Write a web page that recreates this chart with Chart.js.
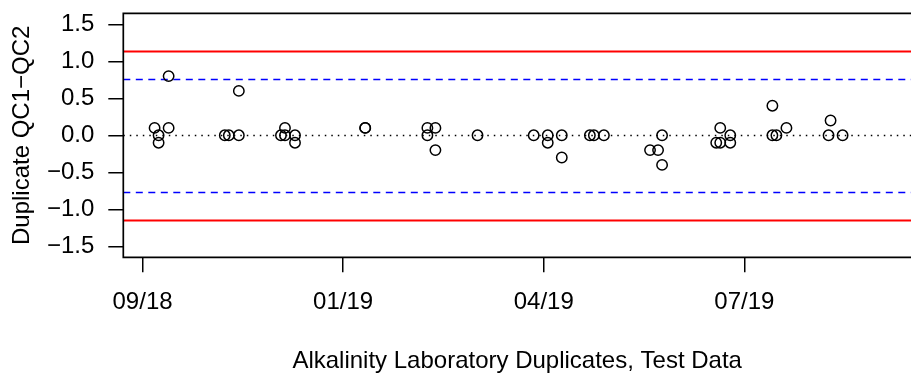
<!DOCTYPE html>
<html><head><meta charset="utf-8">
<script src="https://cdn.jsdelivr.net/npm/chart.js@4.4.1/dist/chart.umd.min.js"></script>
<style>html,body{margin:0;padding:0;background:#fff;}#wrap{width:911px;height:374px;}</style>
</head><body><div id="wrap"><canvas id="c" width="911" height="374"></canvas></div>
<script>
// ---- data ----
const sampleDates = [
  '2018-10-02','2018-10-04','2018-10-04','2018-10-09','2018-10-09',
  '2018-11-06','2018-11-08','2018-11-13','2018-11-13',
  '2018-12-04','2018-12-06','2018-12-06','2018-12-11','2018-12-11',
  '2019-01-15','2019-01-15',
  '2019-02-15','2019-02-15','2019-02-19','2019-02-19',
  '2019-03-12',
  '2019-04-09','2019-04-16','2019-04-16','2019-04-23','2019-04-23',
  '2019-05-07','2019-05-09','2019-05-14',
  '2019-06-06','2019-06-10','2019-06-12','2019-06-12',
  '2019-07-09','2019-07-11','2019-07-11','2019-07-16','2019-07-16',
  '2019-08-06','2019-08-06','2019-08-08','2019-08-13',
  '2019-09-03','2019-09-04','2019-09-10'
];
const diffValues = [
  0.1, 0.0, -0.1, 0.1, 0.8,
  0.0, 0.0, 0.0, 0.6,
  0.0, 0.1, 0.0, 0.0, -0.1,
  0.1, 0.1,
  0.1, 0.0, 0.1, -0.2,
  0.0,
  0.0, 0.0, -0.1, 0.0, -0.3,
  0.0, 0.0, 0.0,
  -0.2, -0.2, 0.0, -0.4,
  -0.1, -0.1, 0.1, 0.0, -0.1,
  0.0, 0.4, 0.0, 0.1,
  0.0, 0.2, 0.0
];
const xTickDays = [17800, 17900, 18000, 18100];
const yTickValues = [-1.5, -1.0, -0.5, 0.0, 0.5, 1.0, 1.5];
const controlLimits = [1.145, -1.145];
const warningLimits = [0.763, -0.763];
const centerLine = [0];
const xRange = [17790.4, 18183.1];
const yRange = [-1.649, 1.649];
const xLabel = 'Alkalinity Laboratory Duplicates, Test Data';
const yLabel = 'Duplicate QC1\u2212QC2';

// ---- helpers ----
function toDay(s){ const p = s.split('-').map(Number); return Date.UTC(p[0], p[1]-1, p[2]) / 86400000; }
function fmtDay(d){ const dt = new Date(d*86400000); const m = dt.getUTCMonth()+1; const y = dt.getUTCFullYear()%100;
  return String(m).padStart(2,'0') + '/' + String(y).padStart(2,'0'); }
function fmtNum(v){ const s = Math.abs(v).toFixed(1); return v < 0 ? '\u2212' + s : s; }

const FONT = 'Liberation Sans, Arial, Helvetica, sans-serif';
const points = sampleDates.map((d,i) => ({x: toDay(d), y: diffValues[i]}));

const refLinePlugin = {
  id: 'refLines',
  beforeDatasetsDraw(chart){
    const {ctx, chartArea: a, scales: {y}} = chart;
    ctx.save();
    ctx.beginPath(); ctx.rect(a.left, a.top, a.right - a.left, a.bottom - a.top); ctx.clip();
    const draw = (vals, color, width, dash) => {
      ctx.strokeStyle = color; ctx.lineWidth = width; ctx.setLineDash(dash);
      vals.forEach(v => { const py = Math.round(y.getPixelForValue(v)) + 0.5;
        ctx.beginPath(); ctx.moveTo(a.left, py); ctx.lineTo(a.right, py); ctx.stroke(); });
    };
    draw(centerLine, '#000000', 1.3, [1.5, 5]);
    draw(warningLimits, '#0000ff', 1.6, [7, 5.5]);
    draw(controlLimits, '#ff0000', 1.8, []);
    ctx.restore();
  },
  afterDraw(chart){
    const {ctx, chartArea: a} = chart;
    ctx.save();
    ctx.strokeStyle = '#000'; ctx.lineWidth = 1.7; ctx.setLineDash([]);
    ctx.beginPath();
    ctx.moveTo(a.right + 2, a.top); ctx.lineTo(a.left, a.top); ctx.lineTo(a.left, a.bottom); ctx.lineTo(a.right + 2, a.bottom);
    ctx.stroke();
    ctx.restore();
  }
};

new Chart(document.getElementById('c'), {
  type: 'scatter',
  data: { datasets: [{
    data: points,
    pointStyle: 'circle',
    pointRadius: 5.2,
    pointHoverRadius: 5.2,
    borderColor: '#000000',
    backgroundColor: 'rgba(0,0,0,0)',
    borderWidth: 1.5
  }]},
  options: {
    responsive: false,
    animation: false,
    devicePixelRatio: 1,
    layout: { autoPadding: false, padding: { top: 13.3, right: 0, bottom: 0, left: 0 } },
    plugins: { legend: { display: false }, tooltip: { enabled: false } },
    scales: {
      x: {
        type: 'linear', min: xRange[0], max: xRange[1],
        afterBuildTicks: s => { s.ticks = xTickDays.map(v => ({value: v})); },
        afterFit: s => { s.height = 116.7; s.paddingLeft = 0; s.paddingRight = 0; },
        ticks: { callback: v => fmtDay(v), font: {family: FONT, size: 24}, color: '#000', padding: 16, maxRotation: 0, autoSkip: false },
        grid: { drawOnChartArea: false, tickLength: 15, color: '#000', lineWidth: 1.5 },
        border: { display: false },
        title: { display: true, text: xLabel, font: {family: FONT, size: 24}, color: '#000', padding: {top: 0, bottom: -2} }
      },
      y: {
        type: 'linear', min: yRange[0], max: yRange[1],
        afterBuildTicks: s => { s.ticks = yTickValues.map(v => ({value: v})); },
        afterFit: s => { s.width = 123.3; s.paddingTop = 0; s.paddingBottom = 0; },
        ticks: { callback: v => fmtNum(v), font: {family: FONT, size: 24}, color: '#000', padding: 14, autoSkip: false },
        grid: { drawOnChartArea: false, tickLength: 15, color: '#000', lineWidth: 1.5 },
        border: { display: false },
        title: { display: true, text: yLabel, font: {family: FONT, size: 24}, color: '#000', padding: {top: 8, bottom: 0} }
      }
    }
  },
  plugins: [refLinePlugin]
});
</script>
</body></html>
